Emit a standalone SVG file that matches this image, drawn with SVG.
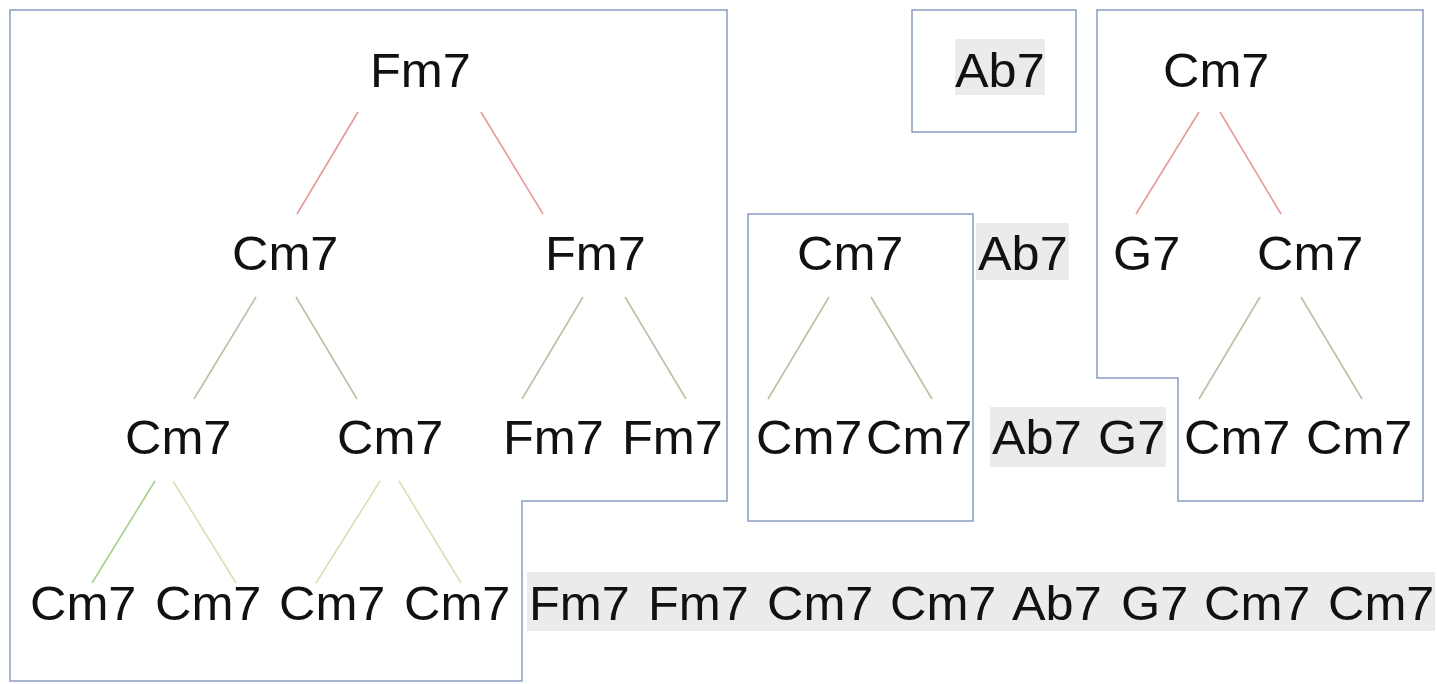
<svg xmlns="http://www.w3.org/2000/svg" width="1438" height="684" viewBox="0 0 1438 684">
<style>
.box{fill:none;stroke:#8a9cc0;stroke-width:1.5}
.hl{fill:#ebebeb}
.t{font-family:"Liberation Sans",Arial,sans-serif;font-size:48px;fill:#111}
.red{stroke:#e49a9a;stroke-width:1.6}
.olive{stroke:#b8c0a6;stroke-width:1.6}
.green{stroke:#a8d08a;stroke-width:1.6}
.lgreen{stroke:#d2e4b2;stroke-width:1.6}
</style>
<rect width="1438" height="684" fill="#fff"/>
<g id="boxes">
<path class="box" d="M10,10 H727 V501 H522 V681 H10 Z"/>
<rect class="box" x="912" y="10" width="164" height="122"/>
<path class="box" d="M1097,10 H1423 V501 H1178 V378 H1097 Z"/>
<rect class="box" x="748" y="214" width="225" height="307"/>
</g>
<g id="highlights">
<rect class="hl" x="955" y="39" width="90" height="56"/>
<rect class="hl" x="976" y="223" width="93" height="57"/>
<rect class="hl" x="990" y="407" width="176" height="60"/>
<rect class="hl" x="527" y="572" width="908" height="59"/>
</g>
<g id="connectors">
<line class="red" x1="358" y1="112" x2="297" y2="214"/>
<line class="red" x1="481" y1="112" x2="543" y2="214"/>
<line class="red" x1="1199" y1="112" x2="1136" y2="214"/>
<line class="red" x1="1220" y1="112" x2="1281" y2="214"/>
<line class="olive" x1="256" y1="297" x2="194" y2="399"/>
<line class="olive" x1="296" y1="297" x2="357" y2="399"/>
<line class="olive" x1="583" y1="297" x2="522" y2="399"/>
<line class="olive" x1="625" y1="297" x2="686" y2="399"/>
<line class="olive" x1="829" y1="297" x2="768" y2="399"/>
<line class="olive" x1="871" y1="297" x2="932" y2="399"/>
<line class="olive" x1="1260" y1="297" x2="1199" y2="399"/>
<line class="olive" x1="1301" y1="297" x2="1362" y2="399"/>
<line class="green" x1="155" y1="481" x2="92" y2="583"/>
<line class="lgreen" x1="173" y1="481" x2="236" y2="583"/>
<line class="lgreen" x1="380" y1="481" x2="316" y2="583"/>
<line class="lgreen" x1="399" y1="481" x2="461" y2="583"/>
</g>
<g id="row1">
<text class="t" transform="translate(370,87) scale(1.05,1)">Fm7</text>
<text class="t" transform="translate(955,87) scale(1.05,1)">Ab7</text>
<text class="t" transform="translate(1163,87) scale(1.05,1)">Cm7</text>
</g>
<g id="row2">
<text class="t" transform="translate(232,270) scale(1.05,1)">Cm7</text>
<text class="t" transform="translate(545,270) scale(1.05,1)">Fm7</text>
<text class="t" transform="translate(797,270) scale(1.05,1)">Cm7</text>
<text class="t" transform="translate(978,270) scale(1.05,1)">Ab7</text>
<text class="t" transform="translate(1113,270) scale(1.05,1)">G7</text>
<text class="t" transform="translate(1257,270) scale(1.05,1)">Cm7</text>
</g>
<g id="row3">
<text class="t" transform="translate(125,454) scale(1.05,1)">Cm7</text>
<text class="t" transform="translate(337,454) scale(1.05,1)">Cm7</text>
<text class="t" transform="translate(503,454) scale(1.05,1)">Fm7</text>
<text class="t" transform="translate(622,454) scale(1.05,1)">Fm7</text>
<text class="t" transform="translate(756,454) scale(1.05,1)">Cm7</text>
<text class="t" transform="translate(866,454) scale(1.05,1)">Cm7</text>
<text class="t" transform="translate(992,454) scale(1.05,1)">Ab7</text>
<text class="t" transform="translate(1098,454) scale(1.05,1)">G7</text>
<text class="t" transform="translate(1184,454) scale(1.05,1)">Cm7</text>
<text class="t" transform="translate(1306,454) scale(1.05,1)">Cm7</text>
</g>
<g id="row4">
<text class="t" transform="translate(30,620) scale(1.05,1)">Cm7</text>
<text class="t" transform="translate(155,620) scale(1.05,1)">Cm7</text>
<text class="t" transform="translate(279,620) scale(1.05,1)">Cm7</text>
<text class="t" transform="translate(404,620) scale(1.05,1)">Cm7</text>
<text class="t" transform="translate(529,620) scale(1.05,1)">Fm7</text>
<text class="t" transform="translate(648,620) scale(1.05,1)">Fm7</text>
<text class="t" transform="translate(767,620) scale(1.05,1)">Cm7</text>
<text class="t" transform="translate(890,620) scale(1.05,1)">Cm7</text>
<text class="t" transform="translate(1012,620) scale(1.05,1)">Ab7</text>
<text class="t" transform="translate(1121,620) scale(1.05,1)">G7</text>
<text class="t" transform="translate(1204,620) scale(1.05,1)">Cm7</text>
<text class="t" transform="translate(1328,620) scale(1.05,1)">Cm7</text>
</g>
</svg>
